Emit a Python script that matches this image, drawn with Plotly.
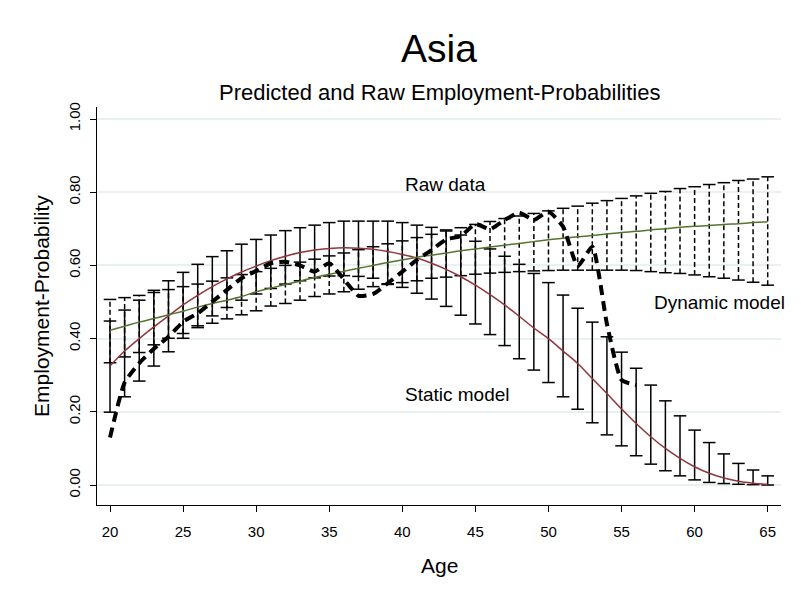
import plotly.graph_objects as go

ages = list(range(20, 66))

static_mean = [0.325, 0.366, 0.400, 0.432, 0.462, 0.492, 0.518, 0.542, 0.563, 0.582,
               0.598, 0.613, 0.625, 0.635, 0.642, 0.646, 0.648, 0.647, 0.644, 0.638,
               0.630, 0.620, 0.606, 0.589, 0.569, 0.546, 0.520, 0.492, 0.461, 0.429,
               0.400, 0.366, 0.332, 0.291, 0.250, 0.208, 0.168, 0.132, 0.100, 0.073,
               0.050, 0.032, 0.019, 0.010, 0.005, 0.002]
static_lo = [0.199, 0.241, 0.284, 0.325, 0.364, 0.401, 0.435, 0.462, 0.485, 0.505,
             0.522, 0.537, 0.549, 0.558, 0.566, 0.571, 0.572, 0.570, 0.565, 0.550,
             0.540, 0.524, 0.508, 0.488, 0.464, 0.440, 0.411, 0.381, 0.345, 0.314,
             0.280, 0.241, 0.207, 0.170, 0.137, 0.107, 0.080, 0.057, 0.039, 0.025,
             0.014, 0.007, 0.004, 0.002, 0.001, 0.000]
static_hi = [0.448, 0.478, 0.505, 0.532, 0.558, 0.581, 0.603, 0.624, 0.640, 0.658,
             0.671, 0.683, 0.695, 0.703, 0.710, 0.717, 0.721, 0.721, 0.721, 0.721,
             0.717, 0.710, 0.704, 0.697, 0.683, 0.666, 0.645, 0.625, 0.603, 0.578,
             0.553, 0.519, 0.483, 0.445, 0.405, 0.363, 0.319, 0.273, 0.230, 0.189,
             0.150, 0.116, 0.085, 0.059, 0.041, 0.025]

dynamic_mean = [0.423, 0.434, 0.445, 0.455, 0.465, 0.475, 0.486, 0.496, 0.505, 0.515,
                0.528, 0.538, 0.548, 0.557, 0.567, 0.576, 0.584, 0.592, 0.600, 0.608,
                0.615, 0.622, 0.628, 0.634, 0.640, 0.645, 0.650, 0.655, 0.660, 0.665,
                0.670, 0.674, 0.678, 0.682, 0.686, 0.690, 0.693, 0.697, 0.700, 0.704,
                0.707, 0.709, 0.712, 0.714, 0.717, 0.719]
dynamic_lo = [0.334, 0.350, 0.362, 0.383, 0.401, 0.414, 0.430, 0.442, 0.454, 0.465,
              0.476, 0.489, 0.496, 0.505, 0.515, 0.522, 0.528, 0.535, 0.542, 0.548,
              0.553, 0.558, 0.565, 0.568, 0.572, 0.576, 0.579, 0.581, 0.583, 0.585,
              0.586, 0.587, 0.587, 0.587, 0.587, 0.587, 0.586, 0.583, 0.580, 0.578,
              0.574, 0.569, 0.565, 0.560, 0.554, 0.546]
dynamic_hi = [0.507, 0.512, 0.518, 0.526, 0.534, 0.542, 0.549, 0.557, 0.566, 0.575,
              0.583, 0.592, 0.600, 0.609, 0.617, 0.626, 0.634, 0.643, 0.651, 0.659,
              0.667, 0.676, 0.685, 0.694, 0.703, 0.712, 0.720, 0.728, 0.735, 0.742,
              0.749, 0.756, 0.762, 0.770, 0.777, 0.783, 0.790, 0.797, 0.802, 0.810,
              0.815, 0.821, 0.826, 0.832, 0.836, 0.842]

raw_ages = list(range(20, 57))
raw_data = [0.130, 0.280, 0.333, 0.372, 0.405, 0.446, 0.469, 0.501, 0.533, 0.565,
            0.585, 0.606, 0.610, 0.600, 0.583, 0.606, 0.562, 0.517, 0.522, 0.551,
            0.583, 0.615, 0.642, 0.671, 0.680, 0.713, 0.699, 0.724, 0.744, 0.724,
            0.747, 0.706, 0.598, 0.651, 0.440, 0.287, 0.273]

y_ticks = [0.0, 0.2, 0.4, 0.6, 0.8, 1.0]
y_ticktext = ["0.00", "0.20", "0.40", "0.60", "0.80", "1.00"]
x_ticks = [20, 25, 30, 35, 40, 45, 50, 55, 60, 65]

RED = "#90353b"
GREEN = "#55752f"
FONT = "Liberation Sans, Arial, sans-serif"


def bar_segments(xs, lo, hi):
    bx, by = [], []
    for a, l, h in zip(xs, lo, hi):
        bx += [a, a, None]
        by += [l, h, None]
    return bx, by


fig = go.Figure()

# static model CI (solid)
sx, sy = bar_segments(ages, static_lo, static_hi)
fig.add_trace(go.Scatter(x=sx, y=sy, mode="lines", line=dict(color="black", width=1.5),
                         hoverinfo="skip", showlegend=False))
fig.add_trace(go.Scatter(x=ages + ages, y=static_lo + static_hi, mode="markers",
                         marker=dict(symbol="line-ew", size=9, line=dict(color="black", width=1.5)),
                         hoverinfo="skip", showlegend=False))

# dynamic model CI (dashed)
dx, dy = bar_segments(ages, dynamic_lo, dynamic_hi)
fig.add_trace(go.Scatter(x=dx, y=dy, mode="lines", line=dict(color="black", width=1.5, dash="5px,3px"),
                         hoverinfo="skip", showlegend=False))
fig.add_trace(go.Scatter(x=ages + ages, y=dynamic_lo + dynamic_hi, mode="markers",
                         marker=dict(symbol="line-ew", size=9, line=dict(color="black", width=1.5)),
                         hoverinfo="skip", showlegend=False))

fig.add_trace(go.Scatter(x=ages, y=static_mean, mode="lines", name="Static model",
                         line=dict(color=RED, width=1.5, shape="spline", smoothing=1),
                         showlegend=False))
fig.add_trace(go.Scatter(x=ages, y=dynamic_mean, mode="lines", name="Dynamic model",
                         line=dict(color=GREEN, width=1.5, shape="spline", smoothing=1),
                         showlegend=False))
fig.add_trace(go.Scatter(x=raw_ages, y=raw_data, mode="lines", name="Raw data",
                         line=dict(color="black", width=4, dash="10px,6px", shape="spline", smoothing=0.5),
                         showlegend=False))

annotations = [
    dict(text="Asia", x=0.5, y=1.147, xref="paper", yref="paper", showarrow=False,
         font=dict(size=39, color="black", family=FONT), xanchor="center", yanchor="middle"),
    dict(text="Predicted and Raw Employment-Probabilities", x=0.5, y=1.036, xref="paper", yref="paper",
         showarrow=False, font=dict(size=22, color="black", family=FONT), xanchor="center", yanchor="middle"),
    dict(text="Age", x=0.5, y=-0.151, xref="paper", yref="paper", showarrow=False,
         font=dict(size=21, color="black", family=FONT), xanchor="center", yanchor="middle"),
    dict(text="Employment-Probability", x=-0.082, y=0.5, xref="paper", yref="paper", showarrow=False,
         textangle=-90, font=dict(size=21, color="black", family=FONT), xanchor="center", yanchor="middle"),
    dict(text="Raw data", x=40.05, y=0.82, xref="x", yref="y", showarrow=False,
         font=dict(size=19, color="black", family=FONT), xanchor="left", yanchor="middle"),
    dict(text="Static model", x=40.05, y=0.246, xref="x", yref="y", showarrow=False,
         font=dict(size=19, color="black", family=FONT), xanchor="left", yanchor="middle"),
    dict(text="Dynamic model", x=57.06, y=0.498, xref="x", yref="y", showarrow=False,
         font=dict(size=19, color="black", family=FONT), xanchor="left", yanchor="middle"),
]

# page body has an 8px default margin; compensate so the plot area lands where it should
fig.update_layout(
    width=801, height=589,
    margin=dict(l=89, r=28, t=99, b=92),
    paper_bgcolor="white", plot_bgcolor="white",
    font=dict(family=FONT, color="black"),
    annotations=annotations,
    showlegend=False,
)
fig.update_xaxes(range=[19.11, 65.91], tickvals=x_ticks, ticks="outside", ticklen=6,
                 tickcolor="black", showline=True, linecolor="black", linewidth=1,
                 showgrid=False, zeroline=False, tickfont=dict(size=15, family=FONT),
                 ticklabelstandoff=7)
fig.update_yaxes(range=[-0.0546, 1.0328], tickvals=y_ticks, ticktext=y_ticktext, ticks="outside",
                 ticklen=6, tickcolor="black", showline=True, linecolor="black", linewidth=1,
                 showgrid=True, gridcolor="#e8f0f2", gridwidth=1.5, zeroline=False, tickangle=-90,
                 tickfont=dict(size=15, family=FONT), ticklabelstandoff=4)

fig.write_html("out.html")
